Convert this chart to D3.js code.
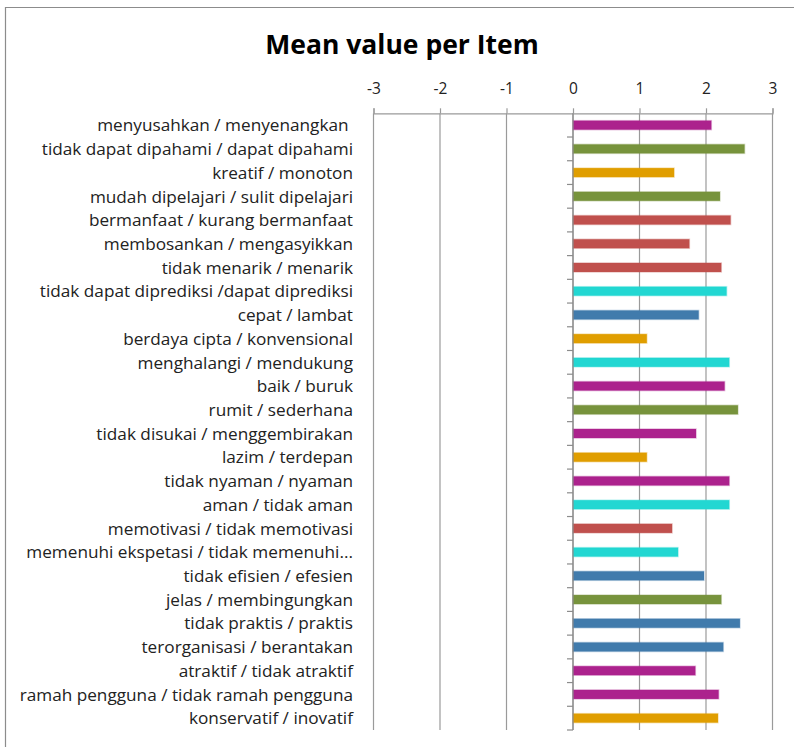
<!DOCTYPE html>
<html>
<head>
<meta charset="utf-8">
<script src="https://cdn.jsdelivr.net/npm/d3@7"></script>
<style>
  html, body { margin: 0; padding: 0; background: #fff; }
  svg { display: block; }
  text { font-family: "Open Sans", Lato, sans-serif; }
</style>
</head>
<body>
<svg id="chart" width="794" height="747"></svg>
<script>
const title = "Mean value per Item";
const categories = [
  "menyusahkan / menyenangkan ",
  "tidak dapat dipahami / dapat dipahami",
  "kreatif / monoton",
  "mudah dipelajari / sulit dipelajari",
  "bermanfaat / kurang bermanfaat",
  "membosankan / mengasyikkan",
  "tidak menarik / menarik",
  "tidak dapat diprediksi /dapat diprediksi",
  "cepat / lambat",
  "berdaya cipta / konvensional",
  "menghalangi / mendukung",
  "baik / buruk",
  "rumit / sederhana",
  "tidak disukai / menggembirakan",
  "lazim / terdepan",
  "tidak nyaman / nyaman",
  "aman / tidak aman",
  "memotivasi / tidak memotivasi",
  "memenuhi ekspetasi / tidak memenuhi...",
  "tidak efisien / efesien",
  "jelas / membingungkan",
  "tidak praktis / praktis",
  "terorganisasi / berantakan",
  "atraktif / tidak atraktif",
  "ramah pengguna / tidak ramah pengguna",
  "konservatif / inovatif"
];
const values = [2.08, 2.58, 1.52, 2.21, 2.37, 1.75, 2.23, 2.31, 1.89, 1.11, 2.35, 2.28, 2.48,
                1.85, 1.11, 2.35, 2.35, 1.49, 1.58, 1.97, 2.23, 2.51, 2.26, 1.84, 2.19, 2.18];
const groups = ["att", "per", "nov", "per", "sti", "sti", "sti", "dep", "eff", "nov", "dep", "att", "per",
                "att", "nov", "att", "dep", "sti", "dep", "eff", "per", "eff", "eff", "att", "att", "nov"];
const groupKeys = ["att", "per", "eff", "dep", "sti", "nov"];
const groupColors = ["#AC228D", "#77933C", "#417BAC", "#22D7D2", "#C0504D", "#E09E00"];
const xTicks = [-3, -2, -1, 0, 1, 2, 3];

const svg = d3.select("#chart");
const color = d3.scaleOrdinal().domain(groupKeys).range(groupColors);

const x = d3.scaleLinear().domain([-3, 3]).range([373.5, 772.5]);
const y = d3.scaleBand().domain(categories).range([113.3, 730]).paddingInner(0.62).paddingOuter(0.31);
const yCat = d3.scaleBand().domain(categories).range([113.3, 730]).padding(0);

// outer frame (top and left edges visible)
svg.append("path")
  .attr("d", "M5.5,747 L5.5,7.5 L794,7.5")
  .attr("fill", "none").attr("stroke", "#8c8c8c").attr("stroke-width", 1.2);

// title
svg.append("text")
  .attr("x", 402).attr("y", 53.5)
  .attr("text-anchor", "middle")
  .attr("font-size", 26.5).attr("font-weight", "bold")
  .attr("fill", "#000")
  .text(title);

// vertical gridlines
svg.append("g").selectAll("line").data(xTicks).join("line")
  .attr("x1", d => x(d)).attr("x2", d => x(d))
  .attr("y1", 113.3).attr("y2", 730)
  .attr("stroke", "#9a9a9a").attr("stroke-width", 1.2);

// top axis
const xAxis = d3.axisTop(x).tickValues(xTicks).tickSize(5).tickPadding(14)
  .tickFormat(d => String(d).replace("\u2212", "-"));
const gx = svg.append("g").attr("transform", "translate(0,113.3)").call(xAxis);
gx.select(".domain").attr("stroke", "#9a9a9a").attr("stroke-width", 1.2);
gx.selectAll(".tick line").attr("stroke", "#9a9a9a").attr("stroke-width", 1.2);
gx.selectAll(".tick text").attr("font-family", "'Open Sans', sans-serif").attr("font-size", 15.5).attr("fill", "#222");

// bars
svg.append("g").selectAll("rect").data(categories).join("rect")
  .attr("x", x(0))
  .attr("y", d => y(d))
  .attr("width", (d, i) => x(values[i]) - x(0))
  .attr("height", y.bandwidth())
  .attr("fill", (d, i) => color(groups[i]))
  .attr("stroke", (d, i) => color(groups[i]))
  .attr("stroke-opacity", 0.3)
  .attr("stroke-width", 1.5);

// category axis line at zero with boundary ticks
const bounds = categories.map(c => yCat(c)).concat([730]);
const gy = svg.append("g");
gy.append("line").attr("x1", x(0)).attr("x2", x(0)).attr("y1", 113.3).attr("y2", 730)
  .attr("stroke", "#8c8c8c").attr("stroke-width", 1.2);
gy.selectAll("line.bt").data(bounds.slice(1)).join("line").attr("class", "bt")
  .attr("x1", x(0) - 6).attr("x2", x(0))
  .attr("y1", d => d).attr("y2", d => d)
  .attr("stroke", "#8c8c8c").attr("stroke-width", 1.2);

// category labels
svg.append("g").selectAll("text").data(categories).join("text")
  .attr("x", 353)
  .attr("y", d => yCat(d) + yCat.bandwidth() / 2)
  .attr("dy", "0.36em")
  .attr("text-anchor", "end")
  .attr("font-size", 17.2)
  .attr("fill", "#222")
  .style("white-space", "pre")
  .text(d => d);
</script>
</body>
</html>
